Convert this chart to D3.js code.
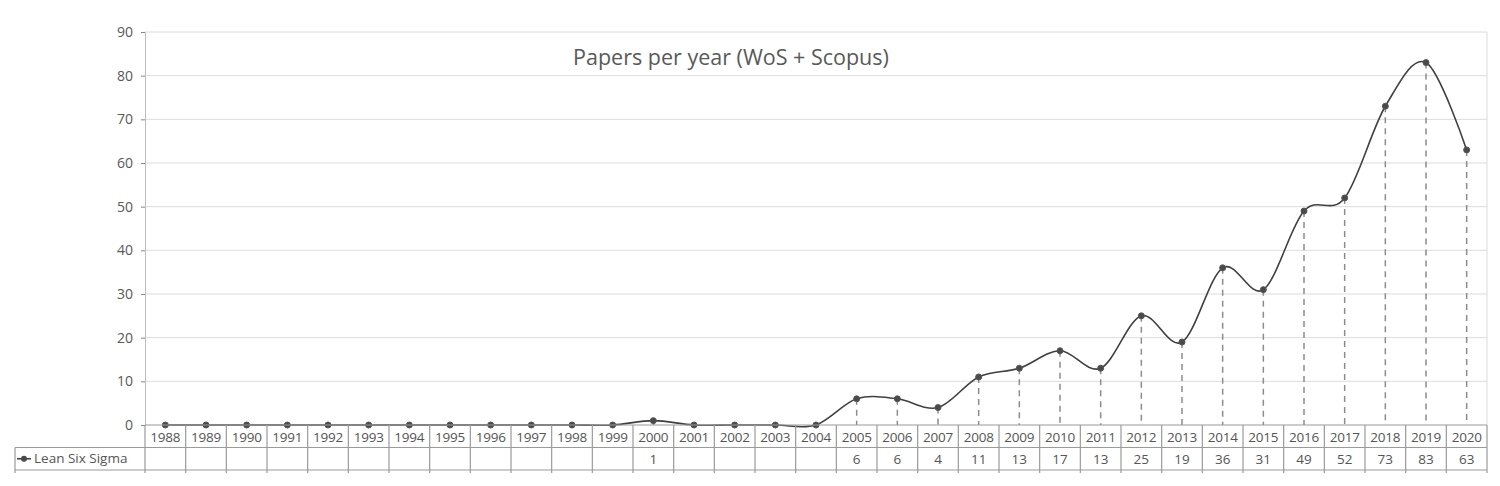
<!DOCTYPE html>
<html>
<head>
<meta charset="utf-8">
<script src="https://cdn.jsdelivr.net/npm/d3@7"></script>
<style>
  html, body { margin: 0; padding: 0; background: #fff; }
  svg { display: block; font-family: "Open Sans", "Liberation Sans", sans-serif; }
</style>
</head>
<body>
<svg id="chart" width="1500" height="486"></svg>
<script>
const years = [1988,1989,1990,1991,1992,1993,1994,1995,1996,1997,1998,1999,2000,2001,2002,2003,2004,2005,2006,2007,2008,2009,2010,2011,2012,2013,2014,2015,2016,2017,2018,2019,2020];
const papers = [0,0,0,0,0,0,0,0,0,0,0,0,1,0,0,0,0,6,6,4,11,13,17,13,25,19,36,31,49,52,73,83,63];
const yTicks = [0,10,20,30,40,50,60,70,80,90];
const seriesName = "Lean Six Sigma";
const chartTitle = "Papers per year (WoS + Scopus)";

(function () {
const data = years.map((yr, i) => ({ year: yr, value: papers[i] }));
const svg = d3.select("#chart");

const pL = 145, pR = 1487, pT = 32, pB = 425;
const rowH = 22.5;

const x = d3.scaleBand().domain(years).range([pL, pR]).padding(0);
const y = d3.scaleLinear().domain([0, 90]).range([pB, pT]);

// gridlines
svg.append("g").selectAll("line").data(yTicks.filter(d => d > 0)).join("line")
  .attr("x1", pL).attr("x2", pR)
  .attr("y1", d => y(d)).attr("y2", d => y(d))
  .attr("stroke", "#dcdcdc").attr("stroke-width", 1);

// right border
svg.append("line").attr("x1", pR).attr("x2", pR).attr("y1", pT).attr("y2", pB)
  .attr("stroke", "#dcdcdc");

// y axis
const yAxis = d3.axisLeft(y).tickValues(yTicks).tickSize(4).tickPadding(8);
const gy = svg.append("g").attr("transform", `translate(${pL},0)`).call(yAxis);
gy.select(".domain").attr("stroke", "#bdbdbd");
gy.selectAll(".tick line").attr("stroke", "#888");
gy.selectAll(".tick text").attr("fill", "#595959").style("font-size", "14px")
  .style("font-family", '"Open Sans", sans-serif');

// title
svg.append("text").attr("x", 731).attr("y", 65).attr("text-anchor", "middle")
  .attr("fill", "#595959").style("font-size", "21.5px").text(chartTitle);

// drop lines
const cx = d => x(d.year) + x.bandwidth() / 2;
svg.append("g").selectAll("line").data(data.filter(d => d.value > 0)).join("line")
  .attr("x1", cx).attr("x2", cx)
  .attr("y1", d => y(d.value)).attr("y2", pB)
  .attr("stroke", "#8c8c8c").attr("stroke-width", 1.5)
  .attr("stroke-dasharray", "6,5");

// smooth line
const line = d3.line().x(cx).y(d => y(d.value)).curve(d3.curveCardinal.tension(0));
svg.append("path").datum(data).attr("d", line)
  .attr("fill", "none").attr("stroke", "#404040").attr("stroke-width", 1.6);

// points
svg.append("g").selectAll("circle").data(data).join("circle")
  .attr("cx", cx).attr("cy", d => y(d.value)).attr("r", 3)
  .attr("fill", "#4a4a4a").attr("stroke", "#555").attr("stroke-width", 1);

// data table
const tbl = svg.append("g").attr("stroke", "#9a9a9a").attr("stroke-width", 1.2);
tbl.append("line").attr("x1", pL).attr("x2", pR).attr("y1", pB).attr("y2", pB);
tbl.append("line").attr("x1", 15).attr("x2", pR).attr("y1", pB + rowH).attr("y2", pB + rowH);
tbl.append("line").attr("x1", 15).attr("x2", pR).attr("y1", pB + 2 * rowH).attr("y2", pB + 2 * rowH);
const bounds = years.map(yr => x(yr)).concat([pR]);
tbl.selectAll("line.v").data(bounds).join("line").attr("class", "v")
  .attr("x1", d => d).attr("x2", d => d)
  .attr("y1", pB).attr("y2", pB + 2 * rowH + 3);
tbl.append("line").attr("x1", 15).attr("x2", 15)
  .attr("y1", pB + rowH).attr("y2", pB + 2 * rowH + 3);

// year labels
svg.append("g").selectAll("text").data(years).join("text")
  .attr("x", d => x(d) + x.bandwidth() / 2).attr("y", pB + 16.5)
  .attr("text-anchor", "middle").attr("fill", "#555").style("font-size", "13.5px")
  .style("letter-spacing", "-0.2px")
  .text(d => d);

// values
svg.append("g").selectAll("text").data(data.filter(d => d.value > 0)).join("text")
  .attr("x", cx).attr("y", pB + rowH + 16.5)
  .attr("text-anchor", "middle").attr("fill", "#555").style("font-size", "13.5px")
  .text(d => d.value);

// legend key
const ly = pB + rowH + rowH / 2;
svg.append("line").attr("x1", 17).attr("x2", 31).attr("y1", ly).attr("y2", ly)
  .attr("stroke", "#404040").attr("stroke-width", 1.6);
svg.append("circle").attr("cx", 24).attr("cy", ly).attr("r", 3).attr("fill", "#4a4a4a");
svg.append("text").attr("x", 34).attr("y", ly + 4.5).attr("fill", "#555")
  .style("font-size", "13.5px").text(seriesName);
})();
</script>
</body>
</html>
